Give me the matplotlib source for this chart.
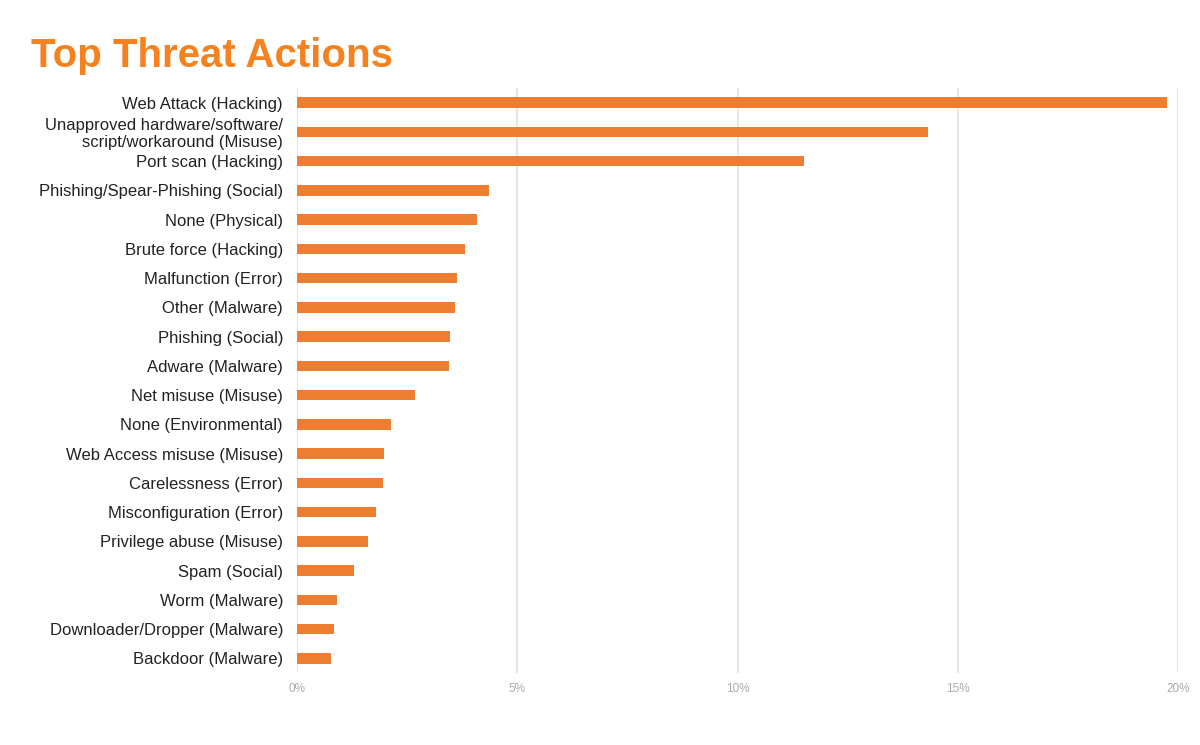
import matplotlib
matplotlib.use("Agg")
import matplotlib.pyplot as plt

categories = [
    "Web Attack (Hacking)",
    "Unapproved hardware/software/\nscript/workaround (Misuse)",
    "Port scan (Hacking)",
    "Phishing/Spear-Phishing (Social)",
    "None (Physical)",
    "Brute force (Hacking)",
    "Malfunction (Error)",
    "Other (Malware)",
    "Phishing (Social)",
    "Adware (Malware)",
    "Net misuse (Misuse)",
    "None (Environmental)",
    "Web Access misuse (Misuse)",
    "Carelessness (Error)",
    "Misconfiguration (Error)",
    "Privilege abuse (Misuse)",
    "Spam (Social)",
    "Worm (Malware)",
    "Downloader/Dropper (Malware)",
    "Backdoor (Malware)",
]
values = [19.75, 14.32, 11.52, 4.36, 4.09, 3.82, 3.64, 3.59, 3.48, 3.45,
          2.68, 2.14, 1.98, 1.95, 1.80, 1.61, 1.30, 0.91, 0.84, 0.77]
xticks = [0, 5, 10, 15, 20]
xtick_labels = ["0%", "5%", "10%", "15%", "20%"]

plt.rcParams['font.family'] = ['Liberation Sans', 'DejaVu Sans']

fig = plt.figure(figsize=(12, 7.45), dpi=100)
ax = fig.add_axes([297/1200, 1 - 673/745, (1178-297)/1200, (673-88)/745])

y = list(range(len(categories)))
ax.barh(y, values, height=0.36, color="#ED7D31", zorder=3)
ax.set_ylim(len(categories) - 0.5, -0.5)
ax.set_xlim(0, 20)
ax.set_yticks(y)
ax.set_yticklabels(categories, fontsize=12, color="#222222", linespacing=1.1)
ax.set_xticks(xticks)
ax.set_xticklabels(xtick_labels, fontsize=8.5, color="#aaaaaa")
ax.tick_params(axis='y', length=0, pad=10)
ax.tick_params(axis='x', length=0, pad=7)
ax.grid(axis='x', color="#e2e2e2", linewidth=1.2, zorder=0)
for s in ax.spines.values():
    s.set_visible(False)

fig.text(31/1200, 1 - 56/745, "Top Threat Actions", fontsize=29, fontweight='bold',
         color="#F5821F", ha='left', va='center')

fig.savefig("out.png", dpi=100)
